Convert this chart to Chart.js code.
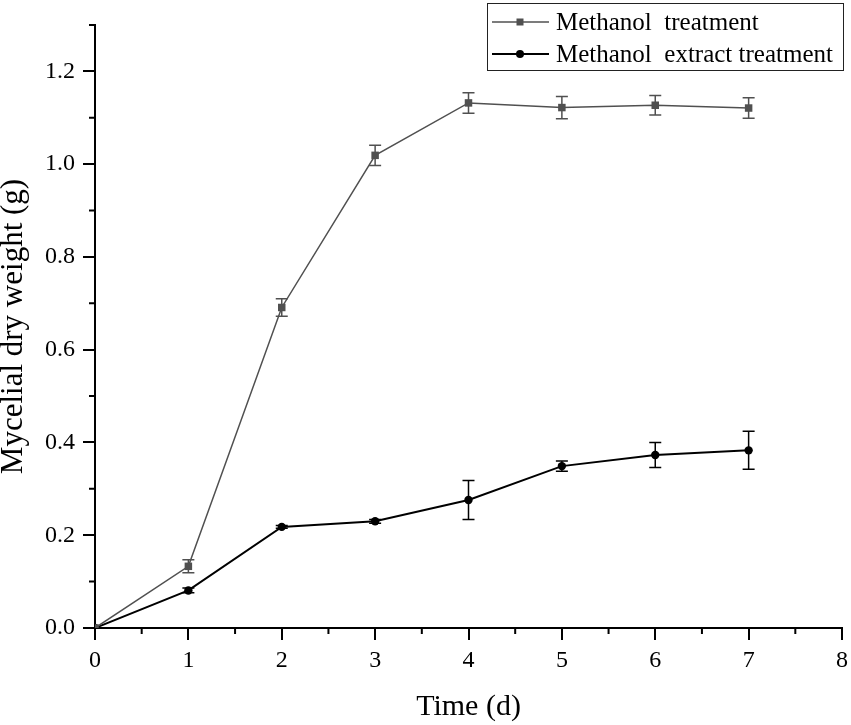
<!DOCTYPE html>
<html>
<head>
<meta charset="utf-8">
<script src="https://cdn.jsdelivr.net/npm/chart.js@4/dist/chart.umd.min.js"></script>
<style>
  body { margin: 0; background: #fff; }
  #chart { display: block; }
</style>
</head>
<body>
<canvas id="chart" width="851" height="725"></canvas>
<script>
const days = [0, 1, 2, 3, 4, 5, 6, 7];
const methanol = [0, 0.133, 0.691, 1.019, 1.132, 1.122, 1.127, 1.121];
const methanolErr = [0, 0.014, 0.019, 0.022, 0.022, 0.024, 0.021, 0.022];
const extract = [0, 0.081, 0.218, 0.230, 0.276, 0.349, 0.373, 0.383];
const extractErr = [0, 0.005, 0.003, 0.004, 0.042, 0.011, 0.027, 0.041];
const seriesNames = ['Methanol  treatment', 'Methanol  extract treatment'];
const xTicks = [0, 1, 2, 3, 4, 5, 6, 7, 8];
const yTicks = [0, 0.2, 0.4, 0.6, 0.8, 1.0, 1.2];

const serif = '"Liberation Serif", "Times New Roman", serif';
const gray = '#505050';

function toPoints(vals) {
    return days.map((d, i) => ({ x: d, y: vals[i] }));
}

// error bars, drawn from the scales
const errorBars = {
    id: 'errorBars',
    afterDatasetsDraw(chart) {
        const ctx = chart.ctx;
        const xs = chart.scales.x, ys = chart.scales.y;
        const errs = [methanolErr, extractErr];
        chart.data.datasets.forEach((ds, di) => {
            ctx.save();
            ctx.strokeStyle = ds.borderColor;
            ctx.lineWidth = 1.5;
            ds.data.forEach((p, i) => {
                const e = errs[di][i];
                if (!e) return;
                const px = xs.getPixelForValue(p.x);
                const top = ys.getPixelForValue(p.y + e);
                const bot = ys.getPixelForValue(p.y - e);
                ctx.beginPath();
                ctx.moveTo(px, top); ctx.lineTo(px, bot);
                ctx.moveTo(px - 6, top); ctx.lineTo(px + 6, top);
                ctx.moveTo(px - 6, bot); ctx.lineTo(px + 6, bot);
                ctx.stroke();
            });
            ctx.restore();
        });
    }
};

// minor ticks and the boxed legend
const extras = {
    id: 'extras',
    afterDraw(chart) {
        const ctx = chart.ctx;
        const xs = chart.scales.x, ys = chart.scales.y;
        const area = chart.chartArea;
        ctx.save();
        ctx.strokeStyle = '#000';
        ctx.lineWidth = 2;
        ctx.beginPath();
        for (let v = 0.5; v < 8; v += 1) {
            const px = xs.getPixelForValue(v);
            ctx.moveTo(px, area.bottom); ctx.lineTo(px, area.bottom + 6);
        }
        for (let v = 0.1; v < 1.35; v += 0.2) {
            const py = ys.getPixelForValue(v);
            ctx.moveTo(area.left, py); ctx.lineTo(area.left - 6, py);
        }
        ctx.stroke();

        // legend
        ctx.lineWidth = 1;
        ctx.strokeStyle = '#222';
        ctx.strokeRect(487.5, 3.5, 356, 67);
        const rows = [22, 54];
        chart.data.datasets.forEach((ds, i) => {
            const y = rows[i];
            ctx.strokeStyle = ds.borderColor;
            ctx.lineWidth = ds.borderWidth;
            ctx.beginPath();
            ctx.moveTo(492, y); ctx.lineTo(549, y);
            ctx.stroke();
            ctx.fillStyle = ds.pointBackgroundColor;
            if (ds.pointStyle === 'rect') {
                ctx.fillRect(516.5, y - 3.5, 7, 7);
            } else {
                ctx.beginPath();
                ctx.arc(520, y, 4, 0, Math.PI * 2);
                ctx.fill();
            }
            ctx.fillStyle = '#000';
            ctx.font = '25px ' + serif;
            ctx.textBaseline = 'middle';
            ctx.fillText(ds.label, 556, y + 1);
        });
        ctx.restore();
    }
};

new Chart(document.getElementById('chart'), {
    type: 'line',
    data: {
        datasets: [{
            label: seriesNames[0],
            data: toPoints(methanol),
            borderColor: gray,
            borderWidth: 1.5,
            pointStyle: 'rect',
            pointRadius: 5.3,
            pointBackgroundColor: gray,
            pointBorderWidth: 0,
            tension: 0
        }, {
            label: seriesNames[1],
            data: toPoints(extract),
            borderColor: '#000',
            borderWidth: 2,
            pointStyle: 'circle',
            pointRadius: 4.2,
            pointBackgroundColor: '#000',
            pointBorderWidth: 0,
            tension: 0
        }]
    },
    options: {
        responsive: false,
        animation: false,
        devicePixelRatio: 1,
        layout: { padding: { left: 0, right: 9, top: 25, bottom: 0 } },
        plugins: { legend: { display: false }, tooltip: { enabled: false } },
        scales: {
            x: {
                type: 'linear',
                min: 0, max: 8,
                afterBuildTicks: s => { s.ticks = xTicks.map(v => ({ value: v })); },
                afterFit: s => { s.height = 97; s.paddingRight = 0; s.paddingLeft = 0; },
                border: { display: true, color: '#000', width: 2 },
                grid: { drawOnChartArea: false, drawTicks: true, tickLength: 12, color: '#000', lineWidth: 2 },
                ticks: { color: '#000', font: { family: serif, size: 24 }, padding: 6, maxRotation: 0 },
                title: {
                    display: true, text: 'Time (d)', color: '#000',
                    font: { family: serif, size: 30, lineHeight: 1.2 }, padding: 0
                }
            },
            y: {
                type: 'linear',
                min: 0, max: 1.3,
                afterBuildTicks: s => { s.ticks = yTicks.map(v => ({ value: v })); },
                afterFit: s => { s.width = 95; },
                border: { display: true, color: '#000', width: 2 },
                grid: { drawOnChartArea: false, drawTicks: true, tickLength: 12, color: '#000', lineWidth: 2 },
                ticks: { color: '#000', font: { family: serif, size: 24 }, padding: 8,
                         callback: v => v.toFixed(1) },
                title: {
                    display: true, text: 'Mycelial dry weight (g)', color: '#000',
                    font: { family: serif, size: 31, lineHeight: 0.9 }, padding: 0
                }
            }
        }
    },
    plugins: [errorBars, extras]
});
</script>
</body>
</html>
